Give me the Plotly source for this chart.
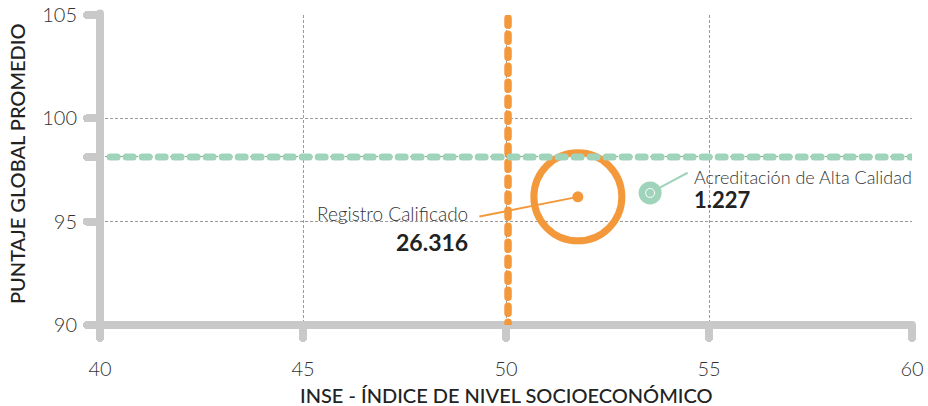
import plotly.graph_objects as go

# Data
group_names = ["Registro Calificado", "Acreditación de Alta Calidad"]
group_counts = ["26.316", "1.227"]
inse_values = [51.77, 53.55]
score_values = [96.2, 96.39]
ref_inse = 50.05
ref_score = 98.13
x_ticks = [40, 45, 50, 55, 60]
y_ticks = [90, 95, 100, 105]
x_title = "INSE - ÍNDICE DE NIVEL SOCIOECONÓMICO"
y_title = "PUNTAJE GLOBAL PROMEDIO"

ORANGE = "#f3993b"
GREEN = "#9fd4bb"
AXIS = "#c9c9c9"
FONT = "Lato"

fig = go.Figure()

# axis lines (drawn as shapes so they cross at the data origin)
fig.add_shape(type="line", xref="paper", yref="paper", x0=0, x1=1, y0=0, y1=0,
              line=dict(color=AXIS, width=8), layer="above")
fig.add_shape(type="line", xref="paper", yref="paper", x0=0, x1=0, y0=0, y1=1.005,
              line=dict(color=AXIS, width=8), layer="above")

# reference lines
fig.add_shape(type="line", x0=ref_inse, x1=ref_inse, y0=89.8, y1=105.05, xref="x", yref="y",
              line=dict(color=ORANGE, width=7.5, dash="7px,9px"), layer="above")
fig.add_shape(type="line", x0=40.25, x1=60, y0=ref_score, y1=ref_score, xref="x", yref="y",
              line=dict(color=GREEN, width=7, dash="7px,9px"), layer="above")

# Orange big ring + dot
fig.add_trace(go.Scatter(x=[inse_values[0]], y=[score_values[0]], mode="markers",
                         marker=dict(size=88, color="rgba(0,0,0,0)", line=dict(color=ORANGE, width=7)),
                         hoverinfo="skip", showlegend=False))
fig.add_trace(go.Scatter(x=[inse_values[0]], y=[score_values[0]], mode="markers",
                         marker=dict(size=11, color=ORANGE, line=dict(width=0)),
                         hoverinfo="skip", showlegend=False))
# Green circle
fig.add_trace(go.Scatter(x=[inse_values[1]], y=[score_values[1]], mode="markers",
                         marker=dict(size=23, color=GREEN, line=dict(width=0)),
                         hoverinfo="skip", showlegend=False))
fig.add_trace(go.Scatter(x=[inse_values[1]], y=[score_values[1]], mode="markers",
                         marker=dict(size=9, color="rgba(0,0,0,0)", line=dict(color="white", width=1)),
                         hoverinfo="skip", showlegend=False))

# Leader lines
fig.add_annotation(x=inse_values[0], y=score_values[0], text="", showarrow=True, ax=-100, ay=20,
                   arrowhead=0, arrowwidth=2, arrowcolor=ORANGE, standoff=0)
fig.add_annotation(x=inse_values[1], y=score_values[1], text="", showarrow=True, ax=39, ay=-21,
                   arrowhead=0, arrowwidth=2, arrowcolor=GREEN, standoff=11)

# Labels
fig.add_annotation(x=inse_values[0], y=score_values[0], text=group_names[0], showarrow=False,
                   xanchor="right", yanchor="middle", xshift=-108, yshift=-17,
                   font=dict(family=FONT, size=19, color="#333", weight=300))
fig.add_annotation(x=inse_values[0], y=score_values[0], text="<b>" + group_counts[0] + "</b>", showarrow=False,
                   xanchor="right", yanchor="middle", xshift=-108, yshift=-45,
                   font=dict(family=FONT, size=23, color="#222"))
fig.add_annotation(x=inse_values[1], y=score_values[1], text=group_names[1], showarrow=False,
                   xanchor="left", yanchor="middle", xshift=42, yshift=16,
                   font=dict(family=FONT, size=18, color="#333", weight=300))
fig.add_annotation(x=inse_values[1], y=score_values[1], text="<b>" + group_counts[1] + "</b>", showarrow=False,
                   xanchor="left", yanchor="middle", xshift=42, yshift=-7,
                   font=dict(family=FONT, size=22, color="#222"))

# Axis titles
fig.add_annotation(xref="paper", yref="paper", x=0.5, y=0, yshift=-70, text=x_title, showarrow=False,
                   xanchor="center", yanchor="middle",
                   font=dict(family=FONT, size=20, color="#222", weight=500))
fig.add_annotation(xref="paper", yref="paper", x=0, y=0.5, xshift=-83, yshift=6, text=y_title,
                   showarrow=False, textangle=-90, xanchor="center", yanchor="middle",
                   font=dict(family=FONT, size=20, color="#222", weight=500))

axis_common = dict(showline=False, ticks="outside", ticklen=12, automargin=False,
                   tickwidth=8, tickcolor=AXIS, showgrid=True, gridcolor="#9a9a9a", gridwidth=1,
                   griddash="3px,2px", zeroline=False,
                   tickfont=dict(family=FONT, size=20, color="#333", weight=300))

fig.update_layout(
    width=928, height=406,
    margin=dict(l=100, r=16, t=15, b=81),
    plot_bgcolor="white", paper_bgcolor="white",
    xaxis=dict(range=[40, 60], tickvals=x_ticks, ticklabelstandoff=14, **axis_common),
    yaxis=dict(range=[90, 105], tickvals=y_ticks + [ref_score],
               ticktext=[str(v) for v in y_ticks] + [""], ticklabelstandoff=6, **axis_common),
)

post = """
document.body.style.margin = '0';
document.body.style.padding = '0';
document.body.style.overflow = 'hidden';
var gd = document.getElementById('{plot_id}');
function roundCaps(){
  document.querySelectorAll('.shapelayer path, path.xtick, path.ytick').forEach(function(p){
    p.style.strokeLinecap = 'round';
  });
}
roundCaps();
if (gd && gd.on) { gd.on('plotly_afterplot', roundCaps); }
"""
fig.write_html("out.html", post_script=post, config={"displayModeBar": False})
